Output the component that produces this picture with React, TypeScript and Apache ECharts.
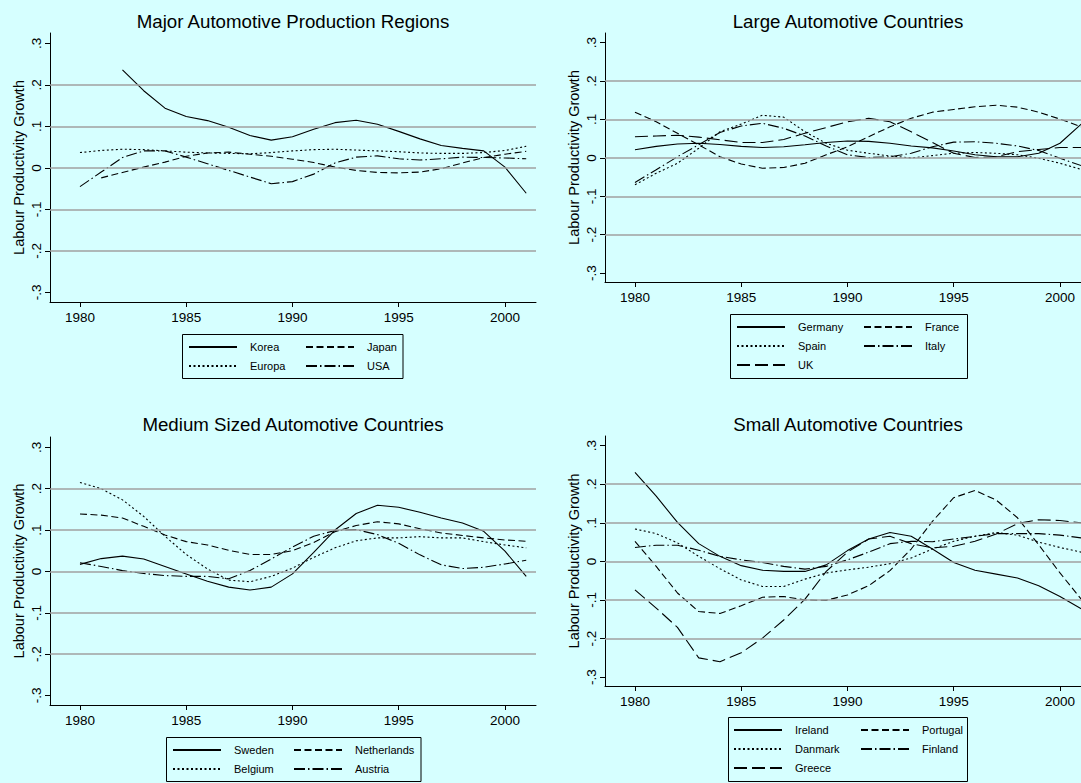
import React, { useEffect, useRef } from "react";
import * as echarts from "echarts";

// ---------- data ----------
const YEARS = [1980, 1981, 1982, 1983, 1984, 1985, 1986, 1987, 1988, 1989, 1990,
  1991, 1992, 1993, 1994, 1995, 1996, 1997, 1998, 1999, 2000, 2001];
const X_TICKS = [1980, 1985, 1990, 1995, 2000];
const Y_TICKS = [-0.3, -0.2, -0.1, 0, 0.1, 0.2, 0.3];
const GRID_VALUES = [-0.2, -0.1, 0, 0.1, 0.2];

const TITLES = [
  "Major Automotive Production Regions",
  "Large Automotive Countries",
  "Medium Sized Automotive Countries",
  "Small Automotive Countries",
];
const Y_TITLE = "Labour Productivity Growth";

// Major regions
const KOREA = [null, null, 0.236, 0.186, 0.144, 0.124, 0.114, 0.098, 0.078, 0.067, 0.075,
  0.093, 0.109, 0.115, 0.105, 0.088, 0.070, 0.054, 0.047, 0.041, 0.002, -0.061];
const JAPAN = [null, -0.024, -0.011, 0.002, 0.014, 0.028, 0.036, 0.038, 0.033, 0.028, 0.021,
  0.013, 0.002, -0.006, -0.011, -0.012, -0.010, -0.002, 0.012, 0.025, 0.033, 0.040];
const EUROPA = [0.037, 0.042, 0.045, 0.044, 0.041, 0.038, 0.036, 0.035, 0.034, 0.037, 0.041,
  0.044, 0.045, 0.043, 0.041, 0.039, 0.036, 0.035, 0.035, 0.037, 0.042, 0.052];
const USA = [-0.045, -0.010, 0.025, 0.041, 0.041, 0.026, 0.010, -0.006, -0.022, -0.038, -0.033,
  -0.015, 0.012, 0.026, 0.029, 0.022, 0.019, 0.022, 0.026, 0.025, 0.024, 0.022];

// Large countries
const GERMANY = [0.021, 0.030, 0.036, 0.038, 0.035, 0.030, 0.027, 0.029, 0.034, 0.040, 0.044,
  0.043, 0.038, 0.031, 0.026, 0.018, 0.008, 0.003, 0.003, 0.012, 0.038, 0.088];
const FRANCE = [0.119, 0.094, 0.064, 0.034, 0.003, -0.016, -0.027, -0.025, -0.014, 0.008, 0.029,
  0.055, 0.081, 0.103, 0.119, 0.126, 0.133, 0.137, 0.132, 0.119, 0.101, 0.081];
const SPAIN = [-0.070, -0.040, -0.014, 0.025, 0.068, 0.088, 0.111, 0.106, 0.068, 0.038, 0.020,
  0.012, 0.005, 0.000, 0.006, 0.012, 0.014, 0.012, 0.008, -0.001, -0.014, -0.030];
const ITALY = [-0.064, -0.031, 0.003, 0.034, 0.066, 0.083, 0.090, 0.077, 0.057, 0.031, 0.008,
  0.001, 0.003, 0.012, 0.029, 0.041, 0.042, 0.038, 0.031, 0.019, -0.001, -0.020];
const UK = [0.055, 0.057, 0.059, 0.054, 0.047, 0.040, 0.040, 0.048, 0.064, 0.079, 0.094,
  0.103, 0.094, 0.068, 0.040, 0.012, 0.001, 0.003, 0.016, 0.022, 0.027, 0.027];

// Medium countries
const SWEDEN = [0.017, 0.031, 0.037, 0.030, 0.012, -0.006, -0.024, -0.038, -0.045, -0.038, -0.006,
  0.046, 0.100, 0.140, 0.160, 0.155, 0.143, 0.129, 0.117, 0.097, 0.049, -0.012];
const NETHERLANDS = [0.139, 0.136, 0.129, 0.109, 0.088, 0.072, 0.064, 0.051, 0.041, 0.041, 0.050,
  0.070, 0.096, 0.111, 0.120, 0.115, 0.103, 0.093, 0.087, 0.081, 0.076, 0.073];
const BELGIUM = [0.215, 0.200, 0.173, 0.133, 0.085, 0.041, 0.006, -0.021, -0.025, -0.012, 0.008,
  0.034, 0.057, 0.074, 0.081, 0.081, 0.084, 0.081, 0.081, 0.072, 0.064, 0.057];
const AUSTRIA = [0.021, 0.012, 0.002, -0.005, -0.010, -0.012, -0.012, -0.018, 0.002, 0.030, 0.059,
  0.085, 0.099, 0.101, 0.089, 0.068, 0.040, 0.016, 0.007, 0.010, 0.018, 0.027];

// Small countries
const IRELAND = [0.231, 0.169, 0.101, 0.046, 0.013, -0.011, -0.023, -0.026, -0.026, -0.009, 0.028,
  0.058, 0.075, 0.065, 0.032, -0.003, -0.023, -0.033, -0.043, -0.063, -0.091, -0.123];
const PORTUGAL = [0.052, -0.013, -0.082, -0.130, -0.135, -0.115, -0.093, -0.091, -0.100, -0.101, -0.087,
  -0.063, -0.024, 0.032, 0.104, 0.165, 0.184, 0.159, 0.113, 0.043, -0.030, -0.098];
const DANMARK = [0.084, 0.072, 0.048, 0.013, -0.019, -0.048, -0.065, -0.065, -0.046, -0.030, -0.022,
  -0.015, -0.006, 0.009, 0.032, 0.052, 0.065, 0.075, 0.068, 0.050, 0.036, 0.024];
const FINLAND = [0.036, 0.042, 0.042, 0.029, 0.013, 0.004, -0.003, -0.013, -0.020, -0.013, 0.004,
  0.024, 0.046, 0.052, 0.051, 0.058, 0.065, 0.072, 0.072, 0.072, 0.068, 0.061];
const GREECE = [-0.074, -0.121, -0.171, -0.250, -0.260, -0.237, -0.199, -0.152, -0.098, -0.026, 0.024,
  0.058, 0.065, 0.046, 0.035, 0.039, 0.052, 0.071, 0.098, 0.108, 0.106, 0.100];

// ---------- styling / layout ----------
const BG = "#d6ffff";
const FONT = "'Liberation Sans', Arial, Helvetica, sans-serif";
const DASH: Record<string, any> = {
  solid: "solid",
  dash: [7, 3.5],
  dot: [2, 2.5],
  dashdot: [11, 3, 1.5, 3],
  longdash: [13, 5],
};

type SeriesDef = { name: string; values: (number | null)[]; dash: string };
type PanelDef = {
  title: string;
  titleX: number;
  titleY: number;
  grid: { left: number; top: number; width: number; height: number };
  series: SeriesDef[];
  legendCols: string[][];
  legendColX: number[];
  legendTop: number;
  legendBox: [number, number, number, number];
};

const PANELS: PanelDef[] = [
  {
    title: TITLES[0], titleX: 293, titleY: 21,
    grid: { left: 50, top: 33, width: 486, height: 269 },
    series: [
      { name: "Korea", values: KOREA, dash: "solid" },
      { name: "Japan", values: JAPAN, dash: "dash" },
      { name: "Europa", values: EUROPA, dash: "dot" },
      { name: "USA", values: USA, dash: "dashdot" },
    ],
    legendCols: [["Korea", "Europa"], ["Japan", "USA"]],
    legendColX: [188, 305], legendTop: 340,
    legendBox: [182.5, 334.5, 220.5, 44],
  },
  {
    title: TITLES[1], titleX: 848, titleY: 21,
    grid: { left: 605, top: 33, width: 486, height: 249 },
    series: [
      { name: "Germany", values: GERMANY, dash: "solid" },
      { name: "France", values: FRANCE, dash: "dash" },
      { name: "Spain", values: SPAIN, dash: "dot" },
      { name: "Italy", values: ITALY, dash: "dashdot" },
      { name: "UK", values: UK, dash: "longdash" },
    ],
    legendCols: [["Germany", "Spain", "UK"], ["France", "Italy"]],
    legendColX: [736, 863], legendTop: 320,
    legendBox: [730.5, 314.5, 237, 64],
  },
  {
    title: TITLES[2], titleX: 293, titleY: 424,
    grid: { left: 50, top: 437, width: 486, height: 268 },
    series: [
      { name: "Sweden", values: SWEDEN, dash: "solid" },
      { name: "Netherlands", values: NETHERLANDS, dash: "dash" },
      { name: "Belgium", values: BELGIUM, dash: "dot" },
      { name: "Austria", values: AUSTRIA, dash: "dashdot" },
    ],
    legendCols: [["Sweden", "Belgium"], ["Netherlands", "Austria"]],
    legendColX: [172, 293], legendTop: 743,
    legendBox: [166.5, 737.5, 254.5, 44],
  },
  {
    title: TITLES[3], titleX: 848, titleY: 424,
    grid: { left: 605, top: 436, width: 486, height: 250 },
    series: [
      { name: "Ireland", values: IRELAND, dash: "solid" },
      { name: "Portugal", values: PORTUGAL, dash: "dash" },
      { name: "Danmark", values: DANMARK, dash: "dot" },
      { name: "Finland", values: FINLAND, dash: "dashdot" },
      { name: "Greece", values: GREECE, dash: "longdash" },
    ],
    legendCols: [["Ireland", "Danmark", "Greece"], ["Portugal", "Finland"]],
    legendColX: [733, 860], legendTop: 723,
    legendBox: [728.5, 717.5, 239, 64],
  },
];

const X_MIN = 1978.59;
const X_MAX = 2001.46;
const Y_MIN = -0.323;
const Y_MAX = 0.325;

function fmtY(v: number): string {
  if (Math.abs(v) < 1e-9) return "0";
  return v.toFixed(1).replace(/^(-?)0\./, "$1.");
}

function buildOption() {
  const grid: any[] = [];
  const xAxis: any[] = [];
  const yAxis: any[] = [];
  const series: any[] = [];
  const legend: any[] = [];
  const graphic: any[] = [];

  PANELS.forEach((p, pi) => {
    grid.push({ ...p.grid, containLabel: false });
    xAxis.push({
      type: "value",
      gridIndex: pi,
      min: X_MIN,
      max: X_MAX,
      axisLine: { show: true, onZero: false, lineStyle: { color: "#000", width: 1 } },
      axisTick: { show: true, length: 5, customValues: X_TICKS, lineStyle: { color: "#000", width: 1 } },
      axisLabel: {
        show: true, customValues: X_TICKS, margin: 8, color: "#000",
        fontSize: 13.5, fontFamily: FONT, formatter: (v: number) => String(Math.round(v)),
      },
      splitLine: { show: false },
    });
    yAxis.push({
      type: "value",
      gridIndex: pi,
      min: Y_MIN,
      max: Y_MAX,
      name: Y_TITLE,
      nameLocation: "middle",
      nameGap: 24,
      nameTextStyle: { color: "#000", fontSize: 14.5, fontFamily: FONT },
      axisLine: { show: true, onZero: false, lineStyle: { color: "#000", width: 1 } },
      axisTick: { show: true, length: 5, customValues: Y_TICKS, lineStyle: { color: "#000", width: 1 } },
      axisLabel: {
        show: true, customValues: Y_TICKS, rotate: 90, margin: 7, color: "#000",
        fontSize: 13.5, fontFamily: FONT, formatter: (v: number) => fmtY(v),
      },
      splitLine: { show: false },
    });

    p.series.forEach((s, si) => {
      const data = YEARS.map((y, i) => [y, s.values[i]]).filter((d) => d[1] !== null);
      const ser: any = {
        type: "line",
        name: s.name,
        xAxisIndex: pi,
        yAxisIndex: pi,
        data,
        showSymbol: false,
        symbol: "none",
        smooth: false,
        z: 3,
        lineStyle: { color: "#000", width: 1.1, type: DASH[s.dash] },
        itemStyle: { color: "#000" },
        emphasis: { disabled: true },
      };
      if (si === 0) {
        ser.markLine = {
          silent: true,
          symbol: ["none", "none"],
          label: { show: false },
          animation: false,
          lineStyle: { color: "#a0a0a0", width: 1.5, type: "solid" },
          data: GRID_VALUES.map((v) => ({ yAxis: v })),
        };
      }
      series.push(ser);
    });

    p.legendCols.forEach((names, ci) => {
      legend.push({
        data: names,
        orient: "vertical",
        left: p.legendColX[ci],
        top: p.legendTop,
        padding: 0,
        itemWidth: 48,
        itemHeight: 14,
        itemGap: 5,
        selectedMode: false,
        itemStyle: { opacity: 0 },
        textStyle: { color: "#000", fontSize: 11, fontFamily: FONT, padding: [0, 0, 0, 8], lineHeight: 14 },
      });
    });

    const [bx, by, bw, bh] = p.legendBox;
    graphic.push({
      type: "rect",
      silent: true,
      shape: { x: bx, y: by, width: bw, height: bh },
      style: { fill: "none", stroke: "#000", lineWidth: 1 },
    });
    graphic.push({
      type: "text",
      silent: true,
      x: p.titleX,
      y: p.titleY,
      style: {
        text: p.title, fill: "#000", fontSize: 18.7, fontFamily: FONT,
        textAlign: "center", textVerticalAlign: "middle",
      },
    });
  });

  return {
    animation: false,
    backgroundColor: BG,
    textStyle: { fontFamily: FONT },
    grid,
    xAxis,
    yAxis,
    series,
    legend,
    graphic,
  };
}

export default function App() {
  const ref = useRef<HTMLDivElement>(null);
  useEffect(() => {
    if (!ref.current) return;
    const chart = echarts.init(ref.current, null, { renderer: "svg" });
    chart.setOption(buildOption() as any);
    return () => chart.dispose();
  }, []);
  return (
    <div
      style={{
        position: "fixed", left: 0, top: 0, width: 1081, height: 783,
        overflow: "hidden", background: BG,
      }}
    >
      <div ref={ref} style={{ width: 1100, height: 783 }} />
    </div>
  );
}
